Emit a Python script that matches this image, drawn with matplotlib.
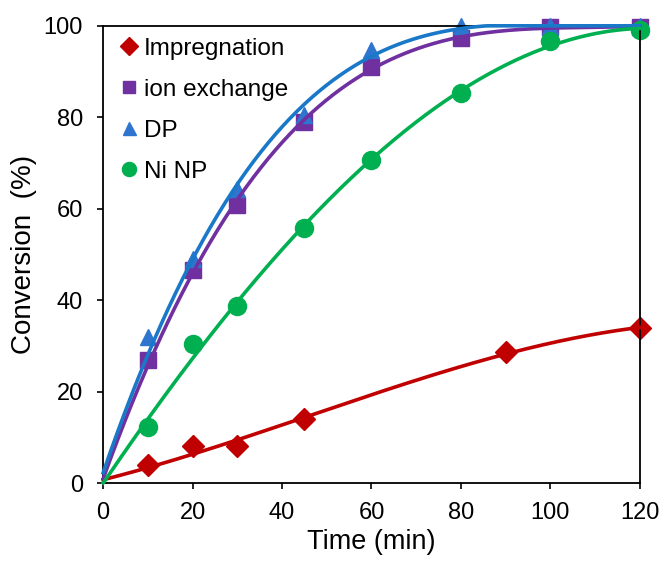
"""Conversion vs time for four Ni catalyst preparations, with smooth fit curves."""
import numpy as np
import matplotlib.pyplot as plt

plt.rcParams["font.family"] = ["Liberation Sans", "DejaVu Sans"]

t_imp = [0, 10, 20, 30, 45, 90, 120]
y_imp = [0, 3.9, 8.0, 8.0, 14.0, 28.6, 33.9]

t_ion = [0, 10, 20, 30, 45, 60, 80, 100, 120]
y_ion = [0, 27.0, 46.6, 60.8, 79.0, 91.0, 97.4, 99.8, 99.8]

t_dp = [0, 10, 20, 30, 45, 60, 80, 100, 120]
y_dp = [0, 32.0, 49.0, 64.3, 80.5, 94.7, 100.0, 100.0, 100.0]

t_ni = [0, 10, 20, 30, 45, 60, 80, 100, 120]
y_ni = [0, 12.3, 30.4, 38.7, 55.8, 70.7, 85.3, 96.7, 99.0]

series = [
    ("Impregnation", t_imp, y_imp, "#C00000", "D", 11.5),
    ("ion exchange", t_ion, y_ion, "#7030A0", "s", 11),
    ("DP", t_dp, y_dp, "#2E75D0", "^", 12),
    ("Ni NP", t_ni, y_ni, "#00B050", "o", 13),
]
line_colors = {"DP": "#1A78C8"}

fig = plt.figure(figsize=(6.61, 5.61), dpi=100)
ax = fig.add_axes([0.156, 0.139, 0.812, 0.815])

for name, t, y, c, m, ms in series:
    t = np.array(t, float)
    y = np.array(y, float)
    # smooth cubic fit, capped at 100 %
    coef = np.polyfit(t, y, 3)
    tt = np.linspace(0, 120, 300)
    yy = np.clip(np.polyval(coef, tt), 0, 100)
    ax.plot(t[1:], y[1:], linestyle="none", marker=m, ms=ms, color=c,
            label=name, zorder=2, clip_on=False)
    ax.plot(tt, yy, color=line_colors.get(name, c), lw=2.6, zorder=3,
            clip_on=False)

ax.set_xlim(0, 120)
ax.set_ylim(0, 100)
ax.set_xticks(np.arange(0, 121, 20))
ax.set_yticks(np.arange(0, 101, 20))
ax.tick_params(labelsize=17, direction="out", length=4.5, width=1.2)
ax.tick_params(axis="y", pad=10)
ax.tick_params(axis="x", pad=9)
for s in ax.spines.values():
    s.set_linewidth(1.3)
ax.set_xlabel("Time (min)", fontsize=19.5, labelpad=4)
ax.set_ylabel("Conversion  (%)", fontsize=20, labelpad=5)

ax.legend(loc="upper left", frameon=False, fontsize=17.5, handlelength=0.6,
          handletextpad=0.3, labelspacing=0.78, markerscale=0.78,
          borderaxespad=0.2, borderpad=0.3, bbox_to_anchor=(0.012, 1.0))

fig.savefig("out.png", dpi=100)
